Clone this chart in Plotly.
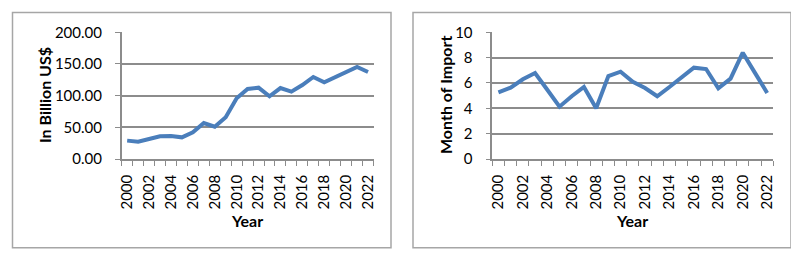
import plotly.graph_objects as go

years = list(range(2000, 2023))
import_bn_usd = [29.0, 27.4, 31.6, 35.8, 36.3, 34.2, 42.0, 56.8, 51.0, 65.8, 95.8, 110.5,
                 112.6, 99.0, 112.0, 106.3, 116.8, 129.5, 121.0, 129.5, 136.8, 145.3, 137.4]
months_of_import = [5.26, 5.63, 6.29, 6.79, 5.47, 4.13, 4.95, 5.68, 4.0, 6.55, 6.89, 6.1,
                    5.6, 4.95, 5.68, 6.45, 7.21, 7.1, 5.58, 6.34, 8.39, 6.8, 5.21]
label_years = list(range(2000, 2023, 2))
left_title = "In Billion US$"
right_title = "Month of Import"
x_title = "Year"

# the page body has an 8px default margin: the figure starts at (8, 8)
OFF = 8
W, H = 799 - OFF, 262 - OFF
FONT = "Lato"
LINE = "#4A7EBB"
GRID = "#8C8C8C"

def px(x):
    return (x - OFF) / W

def py(y):
    return 1 - (y - OFF) / H

fig = go.Figure()
fig.add_trace(go.Scatter(x=years, y=import_bn_usd, mode="lines",
                         line=dict(color=LINE, width=4), xaxis="x", yaxis="y"))
fig.add_trace(go.Scatter(x=years, y=months_of_import, mode="lines",
                         line=dict(color=LINE, width=4), xaxis="x2", yaxis="y2"))

ydom = [py(159), py(32.3)]

def xaxis(domain, anchor):
    return dict(domain=domain, anchor=anchor, range=[1999.5, 2022.5], automargin=False,
                tickvals=label_years, ticktext=[str(y) for y in label_years],
                tickangle=-90, ticks="", showgrid=False, zeroline=False,
                showline=True, linecolor=GRID, linewidth=1.5,
                ticklabelstandoff=8,
                tickfont=dict(family=FONT, size=15, color="#000"),
                minor=dict(tickvals=[y + 0.5 for y in range(1999, 2023)],
                           ticks="outside", ticklen=5, tickcolor=GRID,
                           tickwidth=1.2, showgrid=False))

def yaxis(domain, anchor, rng, dtick, fmt):
    return dict(domain=domain, anchor=anchor, range=rng, dtick=dtick, automargin=False,
                tickformat=fmt, showgrid=True, gridcolor=GRID, gridwidth=1.5,
                zeroline=False, showline=True, linecolor=GRID, linewidth=1.5,
                ticks="outside", ticklen=5, tickcolor=GRID, tickwidth=1.2,
                ticklabelstandoff=10,
                tickfont=dict(family=FONT, size=15, color="#000"))

fig.update_layout(
    width=W, height=H, autosize=False, margin=dict(l=0, r=0, t=0, b=0, pad=0),
    paper_bgcolor="white", plot_bgcolor="white", showlegend=False,
    xaxis=xaxis([px(121.7), px(373.5)], "y"),
    yaxis=yaxis(ydom, "x", [0, 200], 50, ".2f"),
    xaxis2=xaxis([px(492.3), px(773.3)], "y2"),
    yaxis2=yaxis(ydom, "x2", [0, 10], 2, "d"),
)

for x0, x1 in [(12.5, 391), (413, 791)]:
    fig.add_shape(type="rect", xref="paper", yref="paper",
                  x0=px(x0), x1=px(x1), y0=py(247.7), y1=py(12.5),
                  line=dict(color="#A6A6A6", width=1.5), layer="below")

title_font = dict(family=FONT, size=16, color="#000", weight="bold")
for txt, x, y, ang in [(left_title, 44, 95, -90), (right_title, 445, 95, -90),
                       (x_title, 247, 220, 0), (x_title, 632, 220, 0)]:
    fig.add_annotation(text=txt, x=px(x), y=py(y), xref="paper", yref="paper",
                       showarrow=False, textangle=ang, font=title_font,
                       xanchor="center", yanchor="middle")

fig.write_html("out.html")
